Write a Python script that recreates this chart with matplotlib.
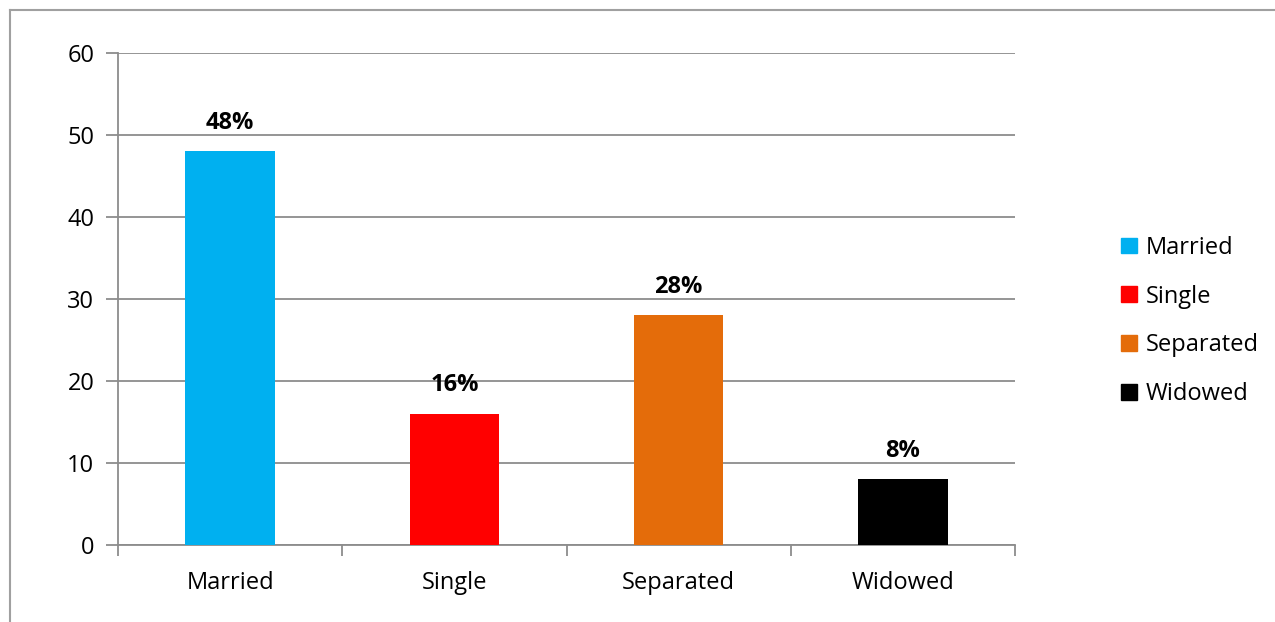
import matplotlib.pyplot as plt
from matplotlib.lines import Line2D
from matplotlib.patches import Patch
import numpy as np

categories = ['Married', 'Single', 'Separated', 'Widowed']
values = [48, 16, 28, 8]
labels = ['48%', '16%', '28%', '8%']
colors = ['#00B0F0', '#FF0000', '#E46C0A', '#000000']

plt.rcParams['font.family'] = ['Open Sans', 'DejaVu Sans']
grid_c = '#8c8c8c'
fs = 17

fig = plt.figure(figsize=(12.75, 6.22), dpi=100)
ax = fig.add_axes([118 / 1275, 1 - 545 / 622, 897 / 1275, 492 / 622])

x = np.arange(len(categories))
ax.bar(x, values, width=0.4, color=colors, zorder=3)

# 柱子上方的百分比
for xi, v, t in zip(x, values, labels):
    ax.text(xi, v + 2.0, t, ha='center', va='bottom', fontsize=fs, fontweight='bold')

ax.set_xlim(-0.5, len(categories) - 0.5)
ax.set_ylim(0, 60)
ax.set_yticks(range(0, 61, 10))
ax.yaxis.grid(True, color=grid_c, linewidth=1.3, zorder=0)
ax.tick_params(axis='y', length=9, width=1.3, color=grid_c, labelsize=fs, pad=8)

# x 轴刻度放在类别之间, 标签放在类别中央
ax.set_xticks(np.arange(-0.5, len(categories), 1.0))
ax.set_xticklabels([])
ax.set_xticks(x, minor=True)
ax.set_xticklabels(categories, minor=True, fontsize=fs)
ax.tick_params(axis='x', which='major', length=8, width=1.3, color=grid_c)
ax.tick_params(axis='x', which='minor', length=0, pad=19)

for s in ['top', 'right']:
    ax.spines[s].set_visible(False)
for s in ['left', 'bottom']:
    ax.spines[s].set_color(grid_c)
    ax.spines[s].set_linewidth(1.3)

handles = [Patch(color=c, label=n) for c, n in zip(colors, categories)]
fig.legend(handles=handles, loc='center left', bbox_to_anchor=(1100 / 1275, 1 - 321 / 622),
           frameon=False, fontsize=fs, handlelength=0.65, handleheight=0.65,
           handletextpad=0.4, labelspacing=1.05)

# 外框线
fig.add_artist(Line2D([10 / 1275, 10 / 1275], [0, 1 - 10 / 622], color='#a0a0a0', linewidth=1.5))
fig.add_artist(Line2D([10 / 1275, 1], [1 - 10 / 622, 1 - 10 / 622], color='#a0a0a0', linewidth=1.5))

plt.savefig('out.png', dpi=100)
